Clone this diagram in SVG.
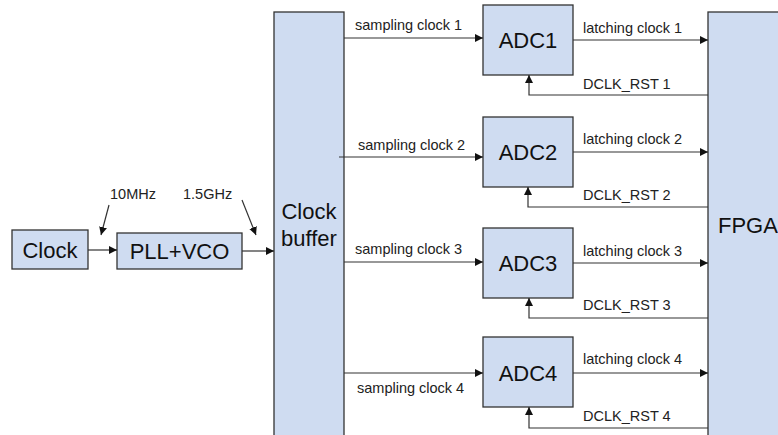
<svg xmlns="http://www.w3.org/2000/svg" width="778" height="435" viewBox="0 0 778 435">
<style>
.box{fill:#cfdcf1;stroke:#333;stroke-width:1.3}
.big{font-family:"Liberation Sans",Arial,sans-serif;font-size:22px;fill:#111}
.lbl{font-family:"Liberation Sans",Arial,sans-serif;font-size:14.5px;fill:#222}
.ln{fill:none;stroke:#333;stroke-width:1.2}
</style>
<defs>
<marker id="ah" viewBox="0 0 10 10" refX="10" refY="5" markerWidth="8" markerHeight="8" markerUnits="userSpaceOnUse" orient="auto">
<path d="M0,0 L10,5 L0,10 z" fill="#111"/>
</marker>
</defs>
<rect width="778" height="435" fill="#fff"/>
<g id="clock"><rect class="box" x="12" y="230" width="76" height="39"/><text class="big" x="50" y="258" text-anchor="middle">Clock</text></g>
<g id="pll"><rect class="box" x="117" y="233" width="125" height="36"/><text class="big" x="179.5" y="259" text-anchor="middle">PLL+VCO</text></g>
<g id="buffer"><rect class="box" x="274" y="12" width="70" height="430"/><text class="big" x="309" y="219" text-anchor="middle">Clock</text><text class="big" x="309" y="246" text-anchor="middle">buffer</text></g>
<g id="adc1"><rect class="box" x="483" y="5" width="90" height="70"/><text class="big" x="528" y="48" text-anchor="middle">ADC1</text></g>
<g id="adc2"><rect class="box" x="483" y="117" width="90" height="70"/><text class="big" x="528" y="160" text-anchor="middle">ADC2</text></g>
<g id="adc3"><rect class="box" x="483" y="228" width="90" height="70"/><text class="big" x="528" y="271" text-anchor="middle">ADC3</text></g>
<g id="adc4"><rect class="box" x="483" y="337" width="90" height="70"/><text class="big" x="528" y="381" text-anchor="middle">ADC4</text></g>
<g id="fpga"><rect class="box" x="708" y="12" width="80" height="430"/><text class="big" x="718" y="233">FPGA</text></g>
<g id="connectors">
<path class="ln" d="M88,250 H117" marker-end="url(#ah)"/>
<path class="ln" d="M242,251 H274" marker-end="url(#ah)"/>
<path class="ln" d="M109,205 L101,235" marker-end="url(#ah)"/>
<path class="ln" d="M242,200 L256,235" marker-end="url(#ah)"/>
<path class="ln" d="M344,38 H483" marker-end="url(#ah)"/>
<path class="ln" d="M339,157 H483" marker-end="url(#ah)"/>
<path class="ln" d="M344,262 H483" marker-end="url(#ah)"/>
<path class="ln" d="M344,373 H483" marker-end="url(#ah)"/>
<path class="ln" d="M573,40 H708" marker-end="url(#ah)"/>
<path class="ln" d="M573,152 H708" marker-end="url(#ah)"/>
<path class="ln" d="M573,263 H708" marker-end="url(#ah)"/>
<path class="ln" d="M573,373 H708" marker-end="url(#ah)"/>
<path class="ln" d="M708,95 H529 V75" marker-end="url(#ah)"/>
<path class="ln" d="M708,207 H528 V187" marker-end="url(#ah)"/>
<path class="ln" d="M708,318 H529 V298" marker-end="url(#ah)"/>
<path class="ln" d="M708,428 H529 V407" marker-end="url(#ah)"/>
</g>
<g id="labels">
<text class="lbl" x="110" y="199">10MHz</text>
<text class="lbl" x="183" y="199">1.5GHz</text>
<text class="lbl" x="355" y="30">sampling clock 1</text>
<text class="lbl" x="358" y="150">sampling clock 2</text>
<text class="lbl" x="355" y="254">sampling clock 3</text>
<text class="lbl" x="357" y="393">sampling clock 4</text>
<text class="lbl" x="583" y="33">latching clock 1</text>
<text class="lbl" x="583" y="144">latching clock 2</text>
<text class="lbl" x="583" y="256">latching clock 3</text>
<text class="lbl" x="583" y="364">latching clock 4</text>
<text class="lbl" x="583" y="89">DCLK_RST 1</text>
<text class="lbl" x="583" y="200">DCLK_RST 2</text>
<text class="lbl" x="583" y="310">DCLK_RST 3</text>
<text class="lbl" x="583" y="421">DCLK_RST 4</text>
</g>
</svg>
